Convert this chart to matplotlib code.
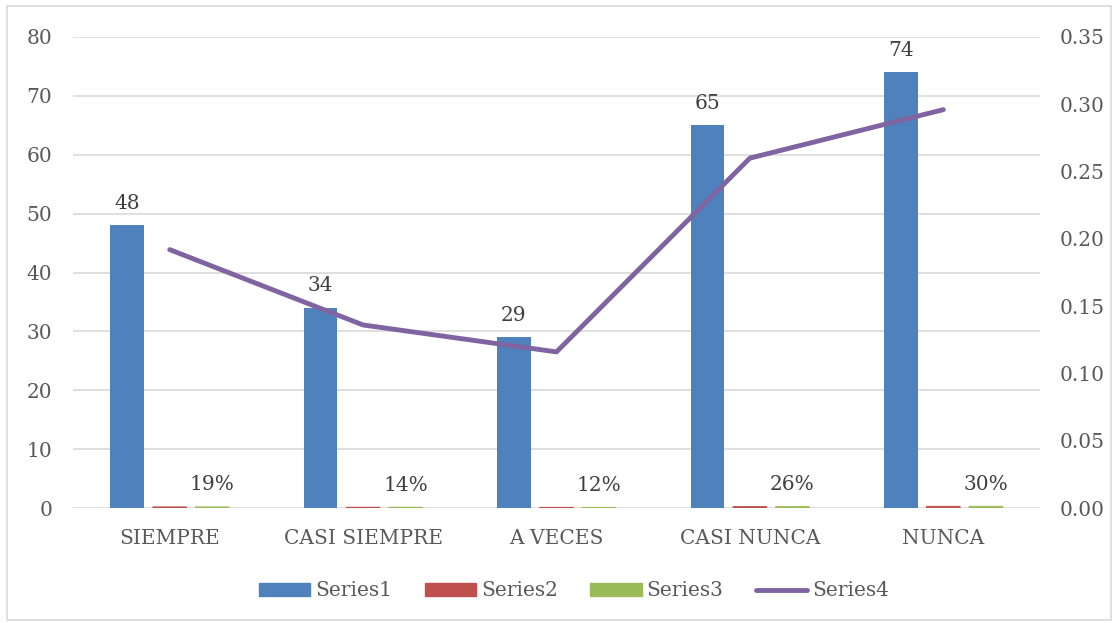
import matplotlib
matplotlib.use("Agg")
import matplotlib.pyplot as plt
from matplotlib.patches import Rectangle, Patch
from matplotlib.lines import Line2D
import numpy as np

categories = ["SIEMPRE", "CASI SIEMPRE", "A VECES", "CASI NUNCA", "NUNCA"]
series1 = [48, 34, 29, 65, 74]
series2 = [0.192, 0.136, 0.116, 0.26, 0.296]
series3 = [0.192, 0.136, 0.116, 0.26, 0.296]
series4 = [0.192, 0.136, 0.116, 0.26, 0.296]
left_ticks = [0, 10, 20, 30, 40, 50, 60, 70, 80]
right_ticks = [0.00, 0.05, 0.10, 0.15, 0.20, 0.25, 0.30, 0.35]

FONT = "DejaVu Serif"
TXT = "#595959"
FS = 14.5
plt.rcParams["font.family"] = [FONT]

fig = plt.figure(figsize=(11.13, 6.23), dpi=100)
fig.patches.append(Rectangle((7/1113, 3/623), 1104/1113, 614/623, transform=fig.transFigure,
                             fill=False, edgecolor="#D9D9D9", linewidth=1.2))
ax = fig.add_axes([73/1113, 115/623, 967/1113, 471/623])
ax2 = ax.twinx()

x = np.arange(len(categories))
w = 0.174
off = 0.22
c1, c2, c3, c4 = "#4F81BD", "#C0504D", "#9BBB59", "#8064A2"
ax.bar(x - off, series1, w, color=c1, zorder=3, linewidth=0)
ax.bar(x, series2, w, color=c2, edgecolor=c2, zorder=3, linewidth=0.6, snap=False)
ax.bar(x + off, series3, w, color=c3, edgecolor=c3, zorder=3, linewidth=0.6, snap=False)

for xi, v in zip(x - off, series1):
    ax.annotate(str(v), (xi, v), xytext=(0, 12), textcoords="offset points",
                ha="center", va="baseline", fontsize=FS, color="#404040")
for xi, v in zip(x + off, series3):
    ax.annotate(f"{v*100:.0f}%", (xi, v), xytext=(0, 12), textcoords="offset points",
                ha="center", va="baseline", fontsize=FS, color="#404040")

ax2.plot(x, series4, color=c4, linewidth=3.5, solid_capstyle="round", zorder=4)

ax.set_xlim(-0.5, len(categories) - 0.5)
ax.set_ylim(0, 80)
ax2.set_ylim(0, 0.35)
ax.set_yticks(left_ticks)
ax.set_yticklabels([str(t) for t in left_ticks])
ax2.set_yticks(right_ticks)
ax2.set_yticklabels([f"{t:.2f}" for t in right_ticks])
ax.set_xticks(x)
ax.set_xticklabels(categories)

ax.grid(axis="y", color="#D9D9D9", linewidth=1.2, zorder=0)
ax.set_axisbelow(True)
for a in (ax, ax2):
    for s in a.spines.values():
        s.set_visible(False)
    a.tick_params(length=0, labelsize=FS, colors=TXT)
ax.tick_params(axis="y", pad=15)
ax2.tick_params(axis="y", pad=14)
ax.tick_params(axis="x", pad=15)

handles = [Patch(color=c1), Patch(color=c2), Patch(color=c3),
           Line2D([0], [0], color=c4, linewidth=3.5, solid_capstyle="round")]
fig.legend(handles, ["Series1", "Series2", "Series3", "Series4"], loc="center",
           bbox_to_anchor=(574/1113, 1 - 591/623), ncol=4, frameon=False,
           fontsize=FS, labelcolor=TXT, handlelength=2.55, handleheight=0.63,
           handletextpad=0.25, columnspacing=1.6)

fig.savefig("out.png", dpi=100)
